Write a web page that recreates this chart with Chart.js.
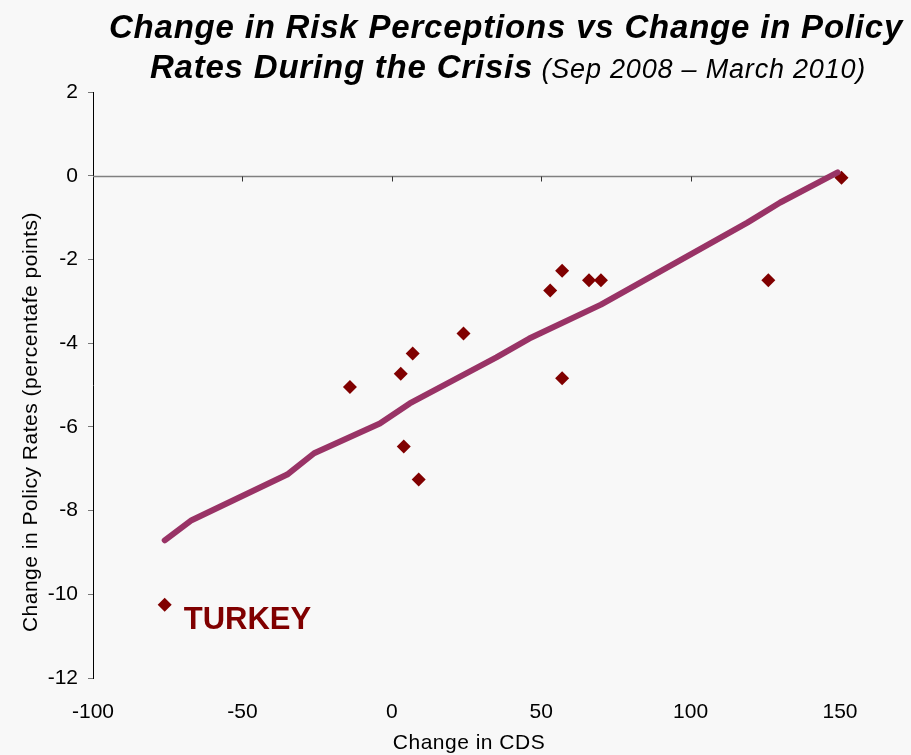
<!DOCTYPE html>
<html>
<head>
<meta charset="utf-8">
<script src="https://cdn.jsdelivr.net/npm/chart.js@4.4.1/dist/chart.umd.min.js"></script>
<style>
  body { margin: 0; background: #f8f8f8; }
  canvas { display: block; }
</style>
</head>
<body>
<canvas id="chart" width="911" height="755"></canvas>
<script>
// Datos
const cdsChange = [-76, -14, 3, 7, 4, 9, 24, 53, 57, 57, 66, 70, 126, 150.5];
const rateChange = [-10.25, -5.05, -4.73, -4.25, -6.47, -7.26, -3.77, -2.74, -2.27, -4.84, -2.5, -2.5, -2.5, -0.05];

// Línea de tendencia
const trendX = [-76, -67, -35, -26, -4, 6, 35, 46, 70, 119, 130, 149.2];
const trendY = [-8.71, -8.23, -7.14, -6.63, -5.92, -5.44, -4.34, -3.89, -3.08, -1.12, -0.64, 0.08];

const titleLine1 = "Change in Risk Perceptions vs Change in Policy";
const titleLine2a = "Rates During the Crisis";
const titleLine2b = " (Sep 2008 \u2013 March 2010)";
const xTitle = "Change in CDS";
const yTitle = "Change in Policy Rates (percentafe points)";
const calloutText = "TURKEY";
const calloutIndex = 0;

const FONT = '"Liberation Sans", Arial, Helvetica, sans-serif';

const points = cdsChange.map((x, i) => ({ x: x, y: rateChange[i] }));
const trend = trendX.map((x, i) => ({ x: x, y: trendY[i] }));

// Fondo, línea del cero, títulos y etiqueta
const decorPlugin = {
  id: "decor",
  beforeDraw(chart) {
    const ctx = chart.ctx;
    ctx.save();
    ctx.fillStyle = "#f8f8f8";
    ctx.fillRect(0, 0, chart.width, chart.height);
    ctx.restore();
  },
  beforeDatasetsDraw(chart) {
    const ctx = chart.ctx;
    const xs = chart.scales.x;
    const ys = chart.scales.y;
    const y0 = Math.round(ys.getPixelForValue(0)) + 0.5;
    ctx.save();
    ctx.strokeStyle = "#808080";
    ctx.lineWidth = 1.5;
    ctx.beginPath();
    ctx.moveTo(xs.getPixelForValue(-100), y0);
    ctx.lineTo(xs.getPixelForValue(150), y0);
    ctx.stroke();
    ctx.strokeStyle = "#333";
    ctx.lineWidth = 1;
    [-50, 0, 50, 100, 150].forEach(v => {
      const px = Math.round(xs.getPixelForValue(v)) + 0.5;
      ctx.beginPath();
      ctx.moveTo(px, y0);
      ctx.lineTo(px, y0 + 5);
      ctx.stroke();
    });
    ctx.restore();
  },
  afterDraw(chart) {
    const ctx = chart.ctx;
    const xs = chart.scales.x;
    const ys = chart.scales.y;
    ctx.save();
    ctx.fillStyle = "#000";
    ctx.textBaseline = "alphabetic";

    // título
    ctx.letterSpacing = "0.8px";
    ctx.font = "italic bold 33px " + FONT;
    ctx.textAlign = "center";
    ctx.fillText(titleLine1, 506, 38);
    ctx.textAlign = "left";
    const boldFont = "italic bold 33px " + FONT;
    const lightFont = "italic 27px " + FONT;
    ctx.font = boldFont;
    const wa = ctx.measureText(titleLine2a).width;
    ctx.font = lightFont;
    const wb = ctx.measureText(titleLine2b).width;
    const startX = 508 - (wa + wb) / 2;
    ctx.font = boldFont;
    ctx.fillText(titleLine2a, startX, 78);
    ctx.font = lightFont;
    ctx.fillText(titleLine2b, startX + wa, 78);

    // título eje X
    ctx.letterSpacing = "0.5px";
    ctx.font = "21px " + FONT;
    ctx.textAlign = "center";
    ctx.fillText(xTitle, 469, 749);

    // título eje Y
    ctx.save();
    ctx.translate(37, 422);
    ctx.rotate(-Math.PI / 2);
    ctx.textAlign = "center";
    ctx.font = "21px " + FONT;
    ctx.fillText(yTitle, 0, 0);
    ctx.restore();

    // etiqueta TURKEY
    ctx.letterSpacing = "0px";
    const px = xs.getPixelForValue(cdsChange[calloutIndex]);
    const py = ys.getPixelForValue(rateChange[calloutIndex]);
    ctx.fillStyle = "#800000";
    ctx.font = "bold 31px " + FONT;
    ctx.textAlign = "left";
    ctx.fillText(calloutText, px + 19, py + 24);
    ctx.restore();
  },
};

const ctx = document.getElementById("chart").getContext("2d");
const chart = new Chart(ctx, {
  type: "scatter",
  data: {
    datasets: [
      {
        type: "line",
        label: "Tendencia",
        data: trend,
        borderColor: "#993366",
        borderWidth: 6,
        borderCapStyle: "round",
        borderJoinStyle: "round",
        pointRadius: 0,
        fill: false,
        tension: 0,
        clip: false,
        order: 0,
      },
      {
        label: "Países",
        data: points,
        pointStyle: "rectRot",
        pointRadius: 7,
        pointBackgroundColor: "#800000",
        pointBorderColor: "#800000",
        pointBorderWidth: 0,
        clip: false,
        order: 1,
      },
    ],
  },
  options: {
    responsive: false,
    animation: false,
    layout: {
      padding: { left: 40, right: 71, top: 92, bottom: 0 },
    },
    plugins: {
      legend: { display: false },
      tooltip: { enabled: false },
    },
    scales: {
      x: {
        type: "linear",
        min: -100,
        max: 150,
        ticks: {
          stepSize: 50,
          color: "#000",
          padding: 22,
          font: { family: FONT, size: 21 },
        },
        grid: { display: false, drawTicks: false },
        border: { display: false },
        afterFit(scale) {
          scale.height = 77;
        },
      },
      y: {
        type: "linear",
        min: -12,
        max: 2,
        ticks: {
          stepSize: 2,
          color: "#000",
          padding: 10,
          font: { family: FONT, size: 21 },
        },
        grid: {
          drawOnChartArea: false,
          drawTicks: true,
          tickLength: 5,
          color: "#777",
        },
        border: { display: true, color: "#000", width: 1 },
        afterFit(scale) {
          scale.width = 53;
        },
      },
    },
  },
  plugins: [decorPlugin],
});
</script>
</body>
</html>
